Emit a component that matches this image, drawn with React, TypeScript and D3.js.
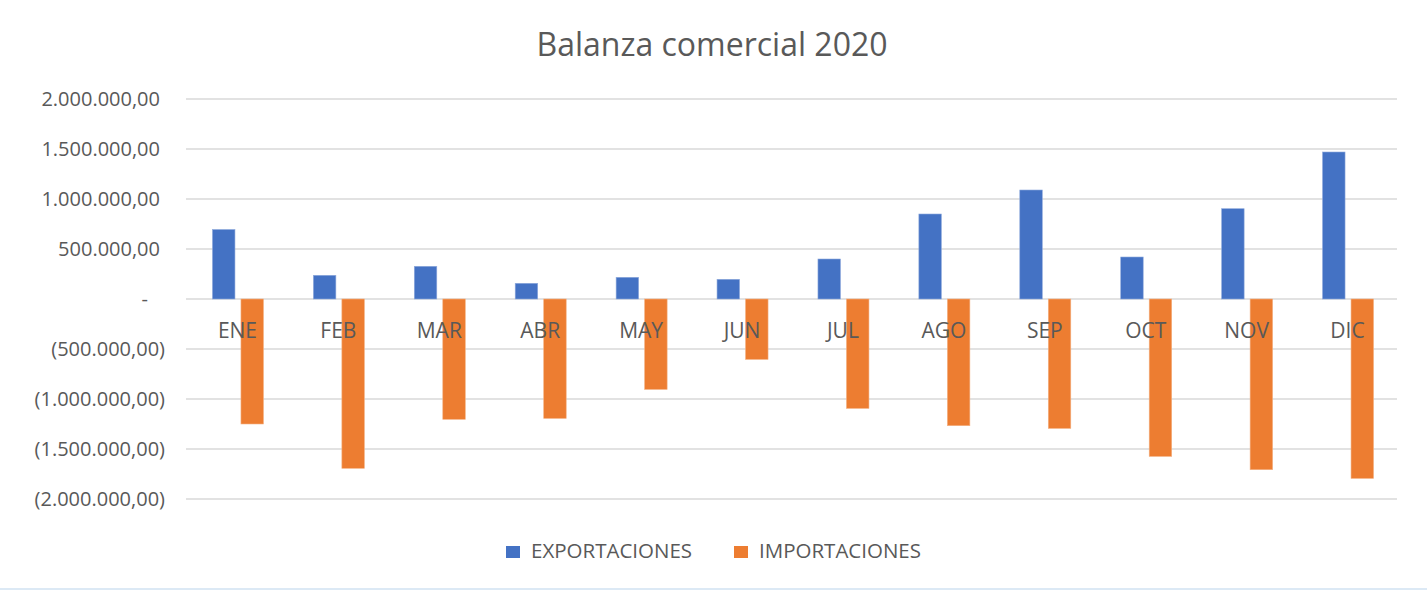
import * as d3 from 'd3';

const width = 1427;
const height = 591;
const margin = { top: 99, right: 30, bottom: 92, left: 186 };
const blue = '#4472C4';
const orange = '#ED7D31';
const textColor = '#595959';
const gridColor = '#d9d9d9';
const font = "'Open Sans', sans-serif";

const months = ['ENE', 'FEB', 'MAR', 'ABR', 'MAY', 'JUN', 'JUL', 'AGO', 'SEP', 'OCT', 'NOV', 'DIC'];
const exportaciones = [695000, 237000, 327000, 157000, 217000, 197000, 400000, 850000, 1090000, 420000, 903000, 1470000];
const importaciones = [-1250000, -1693000, -1203000, -1194000, -904000, -604000, -1094000, -1267000, -1294000, -1574000, -1707000, -1794000];
const yTicks = [2000000, 1500000, 1000000, 500000, 0, -500000, -1000000, -1500000, -2000000];
const seriesNames = ['EXPORTACIONES', 'IMPORTACIONES'];

const esLocale = d3.formatLocale({ decimal: ',', thousands: '.', grouping: [3], currency: ['', ''] });
const fmt = esLocale.format(',.2f');

function tickLabel(v: number) {
    if (v === 0) return '-';
    if (v < 0) return `(${fmt(-v)})`;
    return fmt(v);
}

export default function App() {
    const x = d3.scaleBand<string>()
        .domain(months)
        .range([margin.left, width - margin.right])
        .paddingInner(0)
        .paddingOuter(0);
    const y = d3.scaleLinear()
        .domain([-2000000, 2000000])
        .range([height - margin.bottom, margin.top]);

    const barW = 22.5;
    const gap = 6;
    const groupW = barW * 2 + gap;

    const legendItems = [
        { name: seriesNames[0], color: blue, x: 506 },
        { name: seriesNames[1], color: orange, x: 734 },
    ];

    return (
        <svg width={width} height={height} style={{ position: 'absolute', left: 0, top: 0, background: '#fff' }}>
            <text x={712} y={56} textAnchor="middle" fontFamily={font} fontSize={32} fill={textColor}>
                Balanza comercial 2020
            </text>

            {/* grid + y labels */}
            {yTicks.map(t => (
                <g key={t}>
                    <line x1={margin.left} x2={width - margin.right} y1={y(t)} y2={y(t)} stroke={gridColor} strokeWidth={1.3} />
                    <text
                        x={t < 0 ? 165 : t === 0 ? 148 : 160}
                        y={y(t)}
                        dy="0.35em"
                        textAnchor="end"
                        fontFamily={font}
                        fontSize={20}
                        fill={textColor}
                    >
                        {tickLabel(t)}
                    </text>
                </g>
            ))}

            {/* bars */}
            {months.map((m, i) => {
                const cx = (x(m) as number) + x.bandwidth() / 2 + 1.5;
                const x0 = cx - groupW / 2;
                const e = exportaciones[i];
                const im = importaciones[i];
                return (
                    <g key={m}>
                        <rect x={x0} y={y(Math.max(0, e))} width={barW} height={Math.abs(y(e) - y(0))}
                            fill={blue} stroke="#8faadc" strokeWidth={0.6} />
                        <rect x={x0 + barW + gap} y={y(Math.max(0, im))} width={barW} height={Math.abs(y(im) - y(0))}
                            fill={orange} stroke="#f4b183" strokeWidth={0.6} />
                    </g>
                );
            })}

            {/* category labels */}
            {months.map(m => (
                <text key={m} x={(x(m) as number) + x.bandwidth() / 2 + 1} y={338} textAnchor="middle"
                    fontFamily={font} fontSize={21} fill={textColor}>
                    {m}
                </text>
            ))}

            {/* legend */}
            {legendItems.map(l => (
                <g key={l.name}>
                    <rect x={l.x} y={546} width={14} height={12} fill={l.color} />
                    <text x={l.x + 25} y={558} fontFamily={font} fontSize={20.5} fill={textColor}>{l.name}</text>
                </g>
            ))}

            <line x1={0} x2={width} y1={589} y2={589} stroke="#dce9f5" strokeWidth={2} />
        </svg>
    );
}
